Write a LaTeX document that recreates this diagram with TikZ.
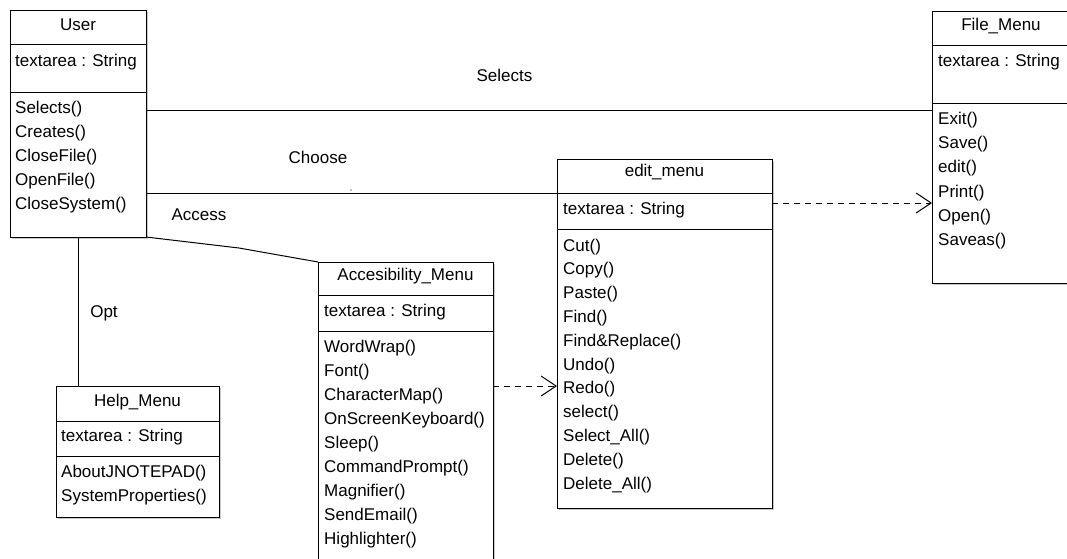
\documentclass[tikz,border=0pt]{standalone}
\usepackage{fontspec}
\setmainfont{Liberation Sans}
\usetikzlibrary{arrows.meta,shadows}

\tikzset{
  classbox/.style={draw, fill=white, line width=1pt, inner sep=0pt, outer sep=0pt,
    anchor=north west,
    drop shadow={shadow xshift=1.6pt, shadow yshift=-1.6pt, fill=black, opacity=0.22}},
  sep/.style={line width=1pt},
  title/.style={anchor=base, inner sep=0pt, font=\fontsize{17}{20}\selectfont},
  member/.style={anchor=base west, inner sep=0pt, font=\fontsize{17}{20}\selectfont},
  lbl/.style={anchor=base, inner sep=0pt, font=\fontsize{17}{20}\selectfont},
  assoc/.style={line width=1pt},
  depend/.style={line width=1pt, dash pattern=on 6pt off 5pt,
    -{Straight Barb[length=15pt,width=20pt,line width=1pt]}}
}

\begin{document}
\begin{tikzpicture}[x=1pt,y=-1pt]
\clip (0,0) rectangle (1067,558);
\fill[white] (0,0) rectangle (1067,558);

% ---------- User ----------
\node[classbox, minimum width=136pt, minimum height=227pt] (user) at (10,10) {};
\draw[sep] ([yshift=-34pt]user.north west) -- ([yshift=-34pt]user.north east);
\draw[sep] ([yshift=-82pt]user.north west) -- ([yshift=-82pt]user.north east);
\node[title] (userT) at (78,30) {User};
\node[member] (userA) at (15,66) {textarea : String};
\node[member] (userM1) at (15,113) {Selects()};
\node[member] (userM2) at (15,137) {Creates()};
\node[member] (userM3) at (15,161) {CloseFile()};
\node[member] (userM4) at (15,185) {OpenFile()};
\node[member] (userM5) at (15,209) {CloseSystem()};

% ---------- File_Menu ----------
\node[classbox, minimum width=143pt, minimum height=272pt] (file) at (932,11) {};
\draw[sep] ([yshift=-34pt]file.north west) -- ([yshift=-34pt]file.north east);
\draw[sep] ([yshift=-92pt]file.north west) -- ([yshift=-92pt]file.north east);
\node[title] (fileT) at (1001,30) {File\_Menu};
\node[member] (fileA) at (938,66) {textarea : String};
\node[member] (fileM1) at (938,124) {Exit()};
\node[member] (fileM2) at (938,148) {Save()};
\node[member] (fileM3) at (938,172) {edit()};
\node[member] (fileM4) at (938,197) {Print()};
\node[member] (fileM5) at (938,221) {Open()};
\node[member] (fileM6) at (938,245) {Saveas()};

% ---------- edit_menu ----------
\node[classbox, minimum width=215pt, minimum height=349pt] (edit) at (557,159) {};
\draw[sep] ([yshift=-34pt]edit.north west) -- ([yshift=-34pt]edit.north east);
\draw[sep] ([yshift=-70pt]edit.north west) -- ([yshift=-70pt]edit.north east);
\node[title] (editT) at (664.5,176) {edit\_menu};
\node[member] (editA) at (563,214) {textarea : String};
\node[member] (editM1) at (563,251) {Cut()};
\node[member] (editM2) at (563,274.8) {Copy()};
\node[member] (editM3) at (563,298.6) {Paste()};
\node[member] (editM4) at (563,322.4) {Find()};
\node[member] (editM5) at (563,346.2) {Find\&Replace()};
\node[member] (editM6) at (563,370) {Undo()};
\node[member] (editM7) at (563,393.8) {Redo()};
\node[member] (editM8) at (563,417.6) {select()};
\node[member] (editM9) at (563,441.4) {Select\_All()};
\node[member] (editM10) at (563,465.2) {Delete()};
\node[member] (editM11) at (563,489) {Delete\_All()};

% ---------- Accesibility_Menu ----------
\node[classbox, minimum width=175pt, minimum height=310pt] (acc) at (318,262) {};
\draw[sep] ([yshift=-33pt]acc.north west) -- ([yshift=-33pt]acc.north east);
\draw[sep] ([yshift=-69pt]acc.north west) -- ([yshift=-69pt]acc.north east);
\node[title] (accT) at (405.5,280) {Accesibility\_Menu};
\node[member] (accA) at (324,316) {textarea : String};
\node[member] (accM1) at (324,352) {WordWrap()};
\node[member] (accM2) at (324,376.1) {Font()};
\node[member] (accM3) at (324,400.2) {CharacterMap()};
\node[member] (accM4) at (324,424.3) {OnScreenKeyboard()};
\node[member] (accM5) at (324,448.4) {Sleep()};
\node[member] (accM6) at (324,472.5) {CommandPrompt()};
\node[member] (accM7) at (324,496.6) {Magnifier()};
\node[member] (accM8) at (324,520.7) {SendEmail()};
\node[member] (accM9) at (324,544.8) {Highlighter()};

% ---------- Help_Menu ----------
\node[classbox, minimum width=163pt, minimum height=131pt] (help) at (56,386) {};
\draw[sep] ([yshift=-35pt]help.north west) -- ([yshift=-35pt]help.north east);
\draw[sep] ([yshift=-70pt]help.north west) -- ([yshift=-70pt]help.north east);
\node[title] (helpT) at (137.5,406) {Help\_Menu};
\node[member] (helpA) at (61,441) {textarea : String};
\node[member] (helpM1) at (61,477) {AboutJNOTEPAD()};
\node[member] (helpM2) at (61,501) {SystemProperties()};

% ---------- associations ----------
\draw[assoc] (user.east |- 0,110) -- (file.west |- 0,110);
\draw[assoc] (user.east |- 0,193) -- (edit.west |- 0,193);
\coordinate (accbend) at (239,248);
\draw[assoc] (user.south east) -- (accbend) -- (acc.north west);
\draw[assoc] (user.south) -- (user.south |- help.north);

% ---------- dependencies ----------
\draw[depend] (edit.east |- 0,203) -- (file.west |- 0,203);
\draw[depend] (acc.east |- 0,386) -- (edit.west |- 0,386);

% ---------- labels ----------
\node[lbl] (lSelects) at (504.5,81) {Selects};
\node[lbl] (lChoose) at (318,163) {Choose};
\node[lbl] (lAccess) at (199,220) {Access};
\node[lbl] (lOpt) at (104,317) {Opt};
\fill (351,190) circle (0.7);
\end{tikzpicture}
\end{document}
